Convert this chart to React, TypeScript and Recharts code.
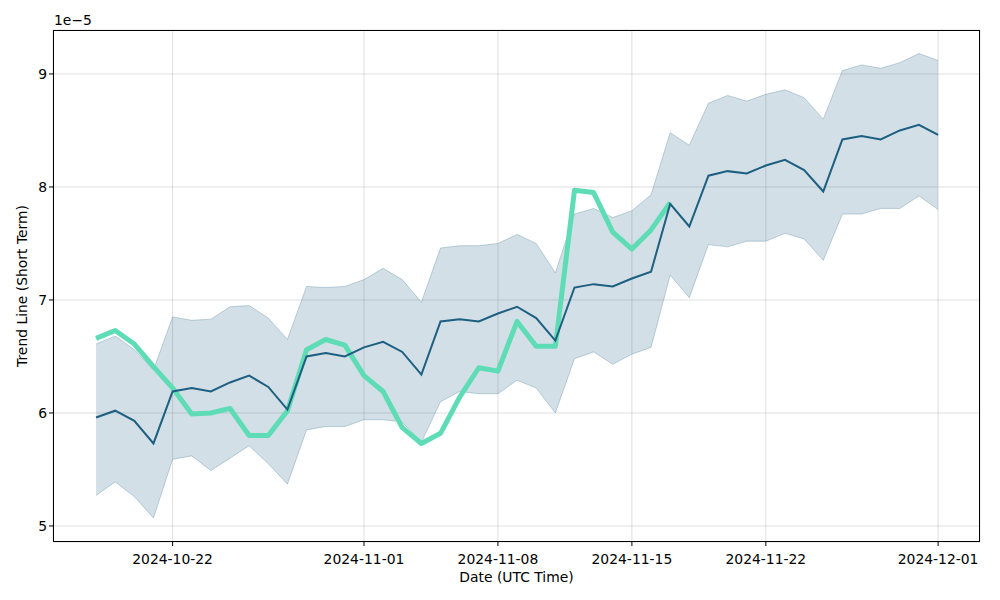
import {
  ComposedChart,
  Area,
  Line,
  XAxis,
  YAxis,
  CartesianGrid,
} from 'recharts';

// Daily dates (UTC)
const dates = [
  '2024-10-18', '2024-10-19', '2024-10-20', '2024-10-21', '2024-10-22',
  '2024-10-23', '2024-10-24', '2024-10-25', '2024-10-26', '2024-10-27',
  '2024-10-28', '2024-10-29', '2024-10-30', '2024-10-31', '2024-11-01',
  '2024-11-02', '2024-11-03', '2024-11-04', '2024-11-05', '2024-11-06',
  '2024-11-07', '2024-11-08', '2024-11-09', '2024-11-10', '2024-11-11',
  '2024-11-12', '2024-11-13', '2024-11-14', '2024-11-15', '2024-11-16',
  '2024-11-17', '2024-11-18', '2024-11-19', '2024-11-20', '2024-11-21',
  '2024-11-22', '2024-11-23', '2024-11-24', '2024-11-25', '2024-11-26',
  '2024-11-27', '2024-11-28', '2024-11-29', '2024-11-30', '2024-12-01',
];

// Values in units of 1e-5
const trend = [
  5.96, 6.02, 5.93, 5.73, 6.19, 6.22, 6.19, 6.27, 6.33, 6.23,
  6.03, 6.50, 6.53, 6.50, 6.58, 6.63, 6.54, 6.34, 6.81, 6.83,
  6.81, 6.88, 6.94, 6.84, 6.64, 7.11, 7.14, 7.12, 7.19, 7.25,
  7.85, 7.65, 8.10, 8.14, 8.12, 8.19, 8.24, 8.15, 7.96, 8.42,
  8.45, 8.42, 8.50, 8.55, 8.46,
];

const upper = [
  6.61, 6.68, 6.56, 6.38, 6.85, 6.82, 6.83, 6.94, 6.95, 6.84,
  6.65, 7.12, 7.11, 7.12, 7.18, 7.28, 7.18, 6.98, 7.46, 7.48,
  7.48, 7.50, 7.58, 7.50, 7.24, 7.76, 7.81, 7.73, 7.79, 7.93,
  8.48, 8.37, 8.74, 8.81, 8.76, 8.82, 8.86, 8.79, 8.60, 9.03,
  9.08, 9.05, 9.10, 9.18, 9.12,
];

const lower = [
  5.27, 5.39, 5.26, 5.07, 5.59, 5.62, 5.49, 5.60, 5.71, 5.55,
  5.37, 5.85, 5.88, 5.88, 5.94, 5.94, 5.92, 5.74, 6.10, 6.19,
  6.17, 6.17, 6.29, 6.22, 6.00, 6.48, 6.54, 6.43, 6.52, 6.58,
  7.22, 7.02, 7.49, 7.47, 7.52, 7.52, 7.59, 7.54, 7.35, 7.76,
  7.76, 7.81, 7.81, 7.92, 7.80,
];

// Observed values, only for the first 31 days
const actual = [
  6.66, 6.73, 6.61, 6.41, 6.22, 5.99, 6.00, 6.04, 5.80, 5.80,
  6.02, 6.56, 6.65, 6.60, 6.33, 6.19, 5.87, 5.73, 5.82, 6.14,
  6.40, 6.37, 6.81, 6.59, 6.59, 7.97, 7.95, 7.60, 7.45, 7.62,
  7.86,
];

const xTickLabels = ['2024-10-22', '2024-11-01', '2024-11-08', '2024-11-15', '2024-11-22', '2024-12-01'];
const yTicks = [5, 6, 7, 8, 9];

const DAY = 86400000;
const FONT = '"DejaVu Sans", sans-serif';
const DARK = '#1d5f80';
const GREEN = '#5edcb5';

const data = dates.map((d, i) => ({
  t: Date.parse(d),
  trend: trend[i],
  band: [lower[i], upper[i]],
  actual: i < actual.length ? actual[i] : null,
}));

const xTicks = xTickLabels.map((d) => Date.parse(d));
const xDomain = [Date.parse(dates[0]) - 2.25 * DAY, Date.parse(dates[dates.length - 1]) + 2.19 * DAY];
const yDomain = [4.858, 9.389];

function formatDate(t: number): string {
  return new Date(t).toISOString().slice(0, 10);
}

const tickStyle = { fill: '#000', fontSize: 13.9, fontFamily: FONT };

export default function App() {
  return (
    <div style={{ position: 'absolute', left: 0, top: 0, width: 1000, height: 600, background: '#fff', fontFamily: FONT }}>
      <ComposedChart
        width={1000}
        height={600}
        data={data}
        margin={{ top: 30, right: 20, left: 0, bottom: 0 }}
      >
        <CartesianGrid xAxisId="b" yAxisId="l" stroke="#b0b0b0" strokeOpacity={0.4} />
        <XAxis
          xAxisId="b"
          dataKey="t"
          type="number"
          domain={xDomain}
          ticks={xTicks}
          tickFormatter={formatDate}
          allowDataOverflow
          height={58}
          tick={tickStyle}
          tickSize={4}
          tickMargin={8}
          axisLine={false}
          tickLine={{ stroke: '#000' }}
          interval={0}
        />
        <YAxis
          yAxisId="l"
          type="number"
          domain={yDomain}
          ticks={yTicks}
          allowDataOverflow
          width={53}
          tick={tickStyle}
          tickSize={4}
          tickMargin={2}
          axisLine={false}
          tickLine={{ stroke: '#000' }}
          interval={0}
        />
        <Area
          xAxisId="b"
          yAxisId="l"
          dataKey="band"
          type="linear"
          stroke={DARK}
          strokeOpacity={0.25}
          strokeWidth={1}
          fill={DARK}
          fillOpacity={0.2}
          isAnimationActive={false}
          activeDot={false}
          dot={false}
        />
        <Line
          xAxisId="b"
          yAxisId="l"
          dataKey="actual"
          type="linear"
          stroke={GREEN}
          strokeWidth={5}
          strokeLinejoin="round"
          dot={false}
          activeDot={false}
          connectNulls={false}
          isAnimationActive={false}
        />
        <Line
          xAxisId="b"
          yAxisId="l"
          dataKey="trend"
          type="linear"
          stroke={DARK}
          strokeWidth={2}
          dot={false}
          activeDot={false}
          isAnimationActive={false}
        />
      </ComposedChart>
      {/* plot frame */}
      <div
        style={{
          position: 'absolute',
          left: 53,
          top: 30,
          width: 927,
          height: 512,
          boxSizing: 'border-box',
          border: '1px solid #000',
          pointerEvents: 'none',
        }}
      />
      <div style={{ position: 'absolute', left: 54, top: 12, fontSize: 13.9, color: '#000' }}>1e−5</div>
      <div style={{ position: 'absolute', left: 53, width: 927, top: 569, textAlign: 'center', fontSize: 13.9, color: '#000' }}>
        Date (UTC Time)
      </div>
      <div
        style={{
          position: 'absolute',
          left: 22,
          top: 286,
          transform: 'translate(-50%, -50%) rotate(-90deg)',
          whiteSpace: 'nowrap',
          fontSize: 13.9,
          color: '#000',
        }}
      >
        Trend Line (Short Term)
      </div>
    </div>
  );
}
